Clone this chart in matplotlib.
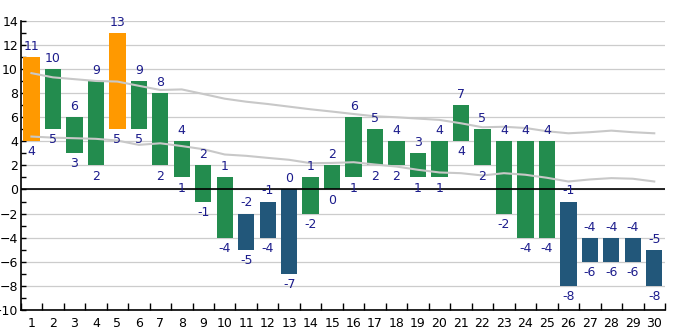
import matplotlib
matplotlib.use("Agg")
import matplotlib.pyplot as plt
import numpy as np

categories = list(range(1, 31))
highs = [11, 10, 6, 9, 13, 9, 8, 4, 2, 1, -2, -1, 0, 1, 2, 6, 5, 4, 3, 4, 7, 5, 4, 4, 4, -1, -4, -4, -4, -5]
lows = [4, 5, 3, 2, 5, 5, 2, 1, -1, -4, -5, -4, -7, -2, 0, 1, 2, 2, 1, 1, 4, 2, -2, -4, -4, -8, -6, -6, -6, -8]
kinds = ["o", "g", "g", "g", "o", "g", "g", "g", "g", "g", "b", "b", "b", "g", "g", "g", "g", "g", "g", "g",
         "g", "g", "g", "g", "g", "b", "b", "b", "b", "b"]
upper_line = [9.65, 9.3, 9.15, 9.0, 8.95, 8.6, 8.25, 8.3, 7.92, 7.53, 7.28, 7.09, 6.87, 6.65, 6.46, 6.26,
              6.07, 5.99, 5.88, 5.77, 5.49, 5.16, 5.2, 5.1, 4.83, 4.66, 4.75, 4.88, 4.75, 4.66]
lower_line = [4.39, 4.3, 4.25, 4.2, 4.06, 3.7, 3.83, 3.6, 3.34, 2.9, 2.79, 2.62, 2.46, 2.18, 2.2, 2.26,
              2.07, 1.9, 1.63, 1.41, 1.35, 1.16, 1.35, 1.22, 0.97, 0.66, 0.83, 0.94, 0.89, 0.66]

colors = {"o": "#FF9900", "g": "#238C4E", "b": "#22577A"}
text_color = "#1C1C8C"

plt.rcParams['font.family'] = ['DejaVu Sans']
fig = plt.figure(figsize=(6.85, 3.30), dpi=100)
ax = fig.add_axes([20.7 / 685, 1 - 310 / 330, (665 - 20.7) / 685, (310 - 20.7) / 330])

x = np.arange(1, 31)
ax.set_xlim(0.5, 30.5)
ax.set_ylim(-10, 14)

for yv in range(-10, 15, 2):
    ax.axhline(yv, color="#CCCCCC", lw=0.9, zorder=0)

h = np.array(highs)
l = np.array(lows)
ax.bar(x, h - l, bottom=l, width=0.76, color=[colors[k] for k in kinds], zorder=2)

ax.plot(x, upper_line, color="#C8C8C8", lw=1.5, zorder=3)
ax.plot(x, lower_line, color="#C8C8C8", lw=1.5, zorder=3)
ax.axhline(0, color="black", lw=1.2, zorder=2.5)

for xi, hi, lo in zip(x, highs, lows):
    ax.annotate(str(hi), (xi, hi), xytext=(0, 3), textcoords="offset points",
                ha="center", va="bottom", color=text_color, fontsize=9, zorder=4)
    ax.annotate(str(lo), (xi, lo), xytext=(0, -3), textcoords="offset points",
                ha="center", va="top", color=text_color, fontsize=9, zorder=4)

ax.set_yticks(range(-10, 15, 2))
ax.set_yticks(range(-10, 15, 1), minor=True)
ax.tick_params(axis="y", which="both", direction="in", length=3.5, width=1, labelsize=9, pad=2)
ax.set_xticks(x)
ax.set_xticks(np.arange(0.5, 31, 1), minor=True)
ax.tick_params(axis="x", which="major", length=0, labelsize=9, pad=5)
ax.tick_params(axis="x", which="minor", direction="in", length=5, width=1)

for s in ["top", "right"]:
    ax.spines[s].set_visible(False)
ax.spines["left"].set_linewidth(1.2)
ax.spines["bottom"].set_linewidth(1.2)

fig.savefig("out.png", dpi=100)
